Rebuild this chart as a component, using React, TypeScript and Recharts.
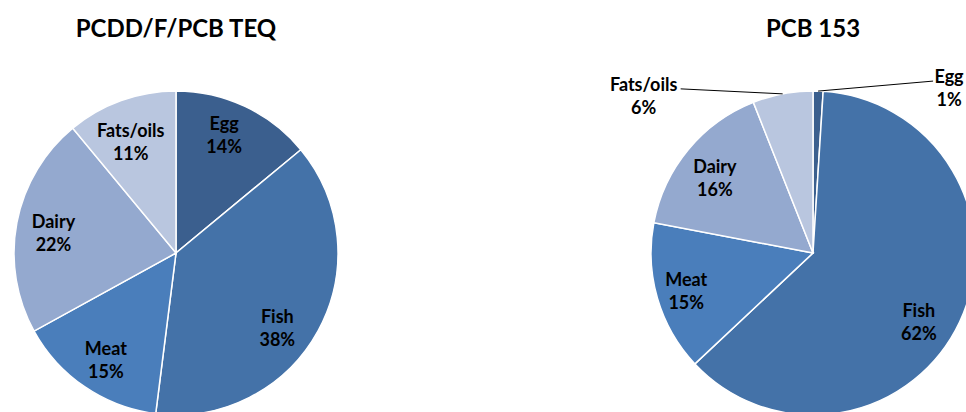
import { PieChart, Pie, Cell } from "recharts";

const categories = ["Egg", "Fish", "Meat", "Dairy", "Fats/oils"];
const teqValues = [14, 38, 15, 22, 11];
const pcbValues = [1, 62, 15, 16, 6];
const chartTitles = ["PCDD/F/PCB TEQ", "PCB 153"];

const colors = ["#3b5f8e", "#4472a8", "#4a7ebb", "#94a9cf", "#b9c6df"];

const teqData = categories.map((name, i) => ({ name, value: teqValues[i] }));
const pcbData = categories.map((name, i) => ({ name, value: pcbValues[i] }));

const RAD = Math.PI / 180;
const FONT = "Lato, 'Open Sans', sans-serif";

// small label nudges (Excel "best fit" placement isn't exactly at the slice middle)
const teqNudge: Record<string, [number, number]> = {
  Egg: [-5, -5],
  Fish: [-8, 15],
  Meat: [0, 4],
  Dairy: [0, 3],
  "Fats/oils": [-3, 6],
};
const pcbNudge: Record<string, [number, number]> = {
  Fish: [-7, 16],
  Meat: [-7, 3],
  Dairy: [-2, 5],
};

// callouts for the thin slices on the PCB 153 pie (line end offset from arc)
const pcbCallouts: Record<string, { dx: number; dy: number; tx: number }> = {
  Egg: { dx: 115, dy: -10, tx: 16 },
  "Fats/oils": { dx: -102, dy: -5, tx: -37 },
};

function makeLabel(nudge: Record<string, [number, number]>, callouts: Record<string, any>) {
  return (props: any) => {
    const { cx, cy, midAngle, outerRadius, name, percent } = props;
    const pct = `${Math.round(percent * 100)}%`;
    const c = callouts[name];
    if (c) {
      const ax = cx + outerRadius * Math.cos(-midAngle * RAD);
      const ay = cy + outerRadius * Math.sin(-midAngle * RAD);
      const ex = ax + c.dx;
      const ey = ay + c.dy;
      return (
        <g>
          <path d={`M${ax},${ay}L${ex},${ey}`} stroke="#000" strokeWidth={1} fill="none" />
          <text
            x={ex + c.tx}
            y={ey}
            textAnchor="middle"
            fontFamily={FONT}
            fontWeight={700}
            fontSize={18}
            fill="#000"
          >
            <tspan x={ex + c.tx} dy={2}>{name}</tspan>
            <tspan x={ex + c.tx} dy={23}>{pct}</tspan>
          </text>
        </g>
      );
    }
    const [nx, ny] = nudge[name] || [0, 0];
    const r = outerRadius * 0.77;
    const x = cx + r * Math.cos(-midAngle * RAD) + nx;
    const y = cy + r * Math.sin(-midAngle * RAD) + ny;
    return (
      <text
        x={x}
        y={y}
        textAnchor="middle"
        fontFamily={FONT}
        fontWeight={700}
        fontSize={18}
        fill="#000"
      >
        <tspan x={x} dy={-5}>{name}</tspan>
        <tspan x={x} dy={23}>{pct}</tspan>
      </text>
    );
  };
}

const titleStyle: React.CSSProperties = {
  position: "absolute",
  top: 13,
  width: 300,
  textAlign: "center",
  fontFamily: FONT,
  fontWeight: 700,
  fontSize: 24,
  color: "#000",
};

export default function App() {
  return (
    <div style={{ position: "relative", width: 966, height: 412, background: "#fff", overflow: "hidden" }}>
      <style>{"body{margin:0}"}</style>
      <div style={{ ...titleStyle, left: 176 - 150 }}>{chartTitles[0]}</div>
      <div style={{ ...titleStyle, left: 813 - 150 }}>{chartTitles[1]}</div>
      <PieChart
        width={966}
        height={412}
        margin={{ top: 0, right: 0, bottom: 0, left: 0 }}
        style={{ position: "absolute", left: 0, top: 0 }}
      >
        <Pie
          data={teqData}
          dataKey="value"
          nameKey="name"
          cx={176}
          cy={253}
          outerRadius={162}
          startAngle={90}
          endAngle={-270}
          stroke="#fff"
          strokeWidth={1.5}
          label={makeLabel(teqNudge, {})}
          labelLine={false}
          isAnimationActive={false}
        >
          {teqData.map((d, i) => (
            <Cell key={d.name} fill={colors[i]} />
          ))}
        </Pie>
        <Pie
          data={pcbData}
          dataKey="value"
          nameKey="name"
          cx={813}
          cy={253}
          outerRadius={162}
          startAngle={90}
          endAngle={-270}
          stroke="#fff"
          strokeWidth={1.5}
          label={makeLabel(pcbNudge, pcbCallouts)}
          labelLine={false}
          isAnimationActive={false}
        >
          {pcbData.map((d, i) => (
            <Cell key={d.name} fill={colors[i]} />
          ))}
        </Pie>
      </PieChart>
    </div>
  );
}
